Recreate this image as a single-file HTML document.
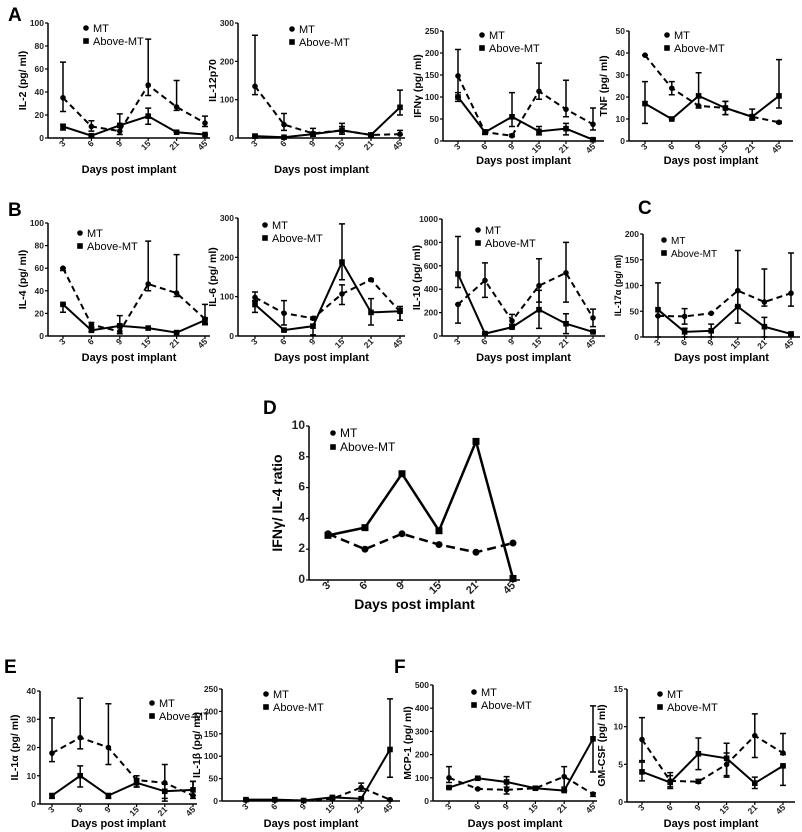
<!DOCTYPE html>
<html><head><meta charset="utf-8"><style>
body{margin:0;background:#fff}
svg{display:block;font-family:"Liberation Sans",Arial,sans-serif}
</style></head><body>
<svg id="fig" width="802" height="832" viewBox="0 0 802 832"></svg>
<script>
const days = ["3","6","9","15","21","45"];
// A1 IL-2
const il2Mt=[35,10,6,46,27,13], il2MtHi=[66,15,21,86,50,19], il2MtLo=[23,6,3,37,24,10];
const il2Ab=[10,2,11,19,5,3], il2AbHi=[12,3,11,26,5,3], il2AbLo=[7,1,11,12,5,3];
// A2 IL-12p70
const il12Mt=[135,35,12,20,8,10], il12MtHi=[268,64,25,38,12,20], il12MtLo=[113,20,5,10,5,8];
const il12Ab=[5,2,10,20,8,80], il12AbHi=[8,3,15,30,10,125], il12AbLo=[3,1,5,10,5,60];
// A3 IFNg
const ifnMt=[148,20,12,113,72,38], ifnMtHi=[208,25,15,177,138,75], ifnMtLo=[100,15,10,95,55,25];
const ifnAb=[100,20,55,22,28,3], ifnAbHi=[110,25,110,33,40,5], ifnAbLo=[90,15,33,14,14,1];
// A4 TNF
const tnfMt=[39,24,16,15,11,8.5], tnfMtHi=[39,27,16,18,12,9], tnfMtLo=[39,21,16,12,10,8];
const tnfAb=[17,10,20.5,15,11,20.5], tnfAbHi=[27,10,31,18,14.5,37], tnfAbLo=[8,10,15,12,9.5,15];
// B1 IL-4
const il4Mt=[60,10,4,46,38,15], il4MtHi=[60,12,18,84,72,28], il4MtLo=[58,8,2,40,35,10];
const il4Ab=[28,5,9,7,3,14], il4AbHi=[28,7,10,7,4,16], il4AbLo=[21,4,8,7,3,11];
// B2 IL-6
const il6Mt=[98,58,45,107,143,62], il6MtHi=[112,90,48,130,145,75], il6MtLo=[88,28,42,80,140,40];
const il6Ab=[80,15,25,188,60,63], il6AbHi=[90,17,30,285,95,70], il6AbLo=[60,12,3,143,28,40];
// B3 IL-10
const il10Mt=[270,475,130,430,540,155], il10MtHi=[270,625,185,660,800,230], il10MtLo=[110,330,100,290,290,80];
const il10Ab=[530,20,75,225,105,35], il10AbHi=[850,25,80,390,190,40], il10AbLo=[415,15,70,65,20,30];
// C IL-17a
const il17Mt=[41,40,46,90,68,85], il17MtHi=[41,55,46,168,132,163], il17MtLo=[41,25,46,60,60,60];
const il17Ab=[53,10,12,59,20,6], il17AbHi=[105,17,25,59,38,8], il17AbLo=[0,0,0,27,0,4];
// D ratio
const ratioMt=[3.0,2.0,3.0,2.3,1.8,2.4];
const ratioAb=[2.9,3.4,6.9,3.2,9.0,0.1];
// E1 IL-1a
const il1aMt=[18,23.5,20,8.5,7.5,3], il1aMtHi=[30.5,37.5,35.5,10,14,8], il1aMtLo=[15,19.5,14,6,1,2];
const il1aAb=[3,10,3,7.5,4.5,5], il1aAbHi=[3.5,13.5,3.5,9,7,8], il1aAbLo=[2,6,2,6,2,3];
// E2 IL-1b
const il1bMt=[2,2,1,5,30,3], il1bMtHi=[4,3,2,6,40,4], il1bMtLo=[1,1,1,4,22,2];
const il1bAb=[3,3,1,8,5,115], il1bAbHi=[5,4,2,10,6,228], il1bAbLo=[2,2,1,6,4,53];
// F1 MCP-1
const mcpMt=[100,52,48,55,105,30], mcpMtHi=[148,55,80,60,148,35], mcpMtLo=[80,50,30,50,60,20];
const mcpAb=[58,98,82,55,45,268], mcpAbHi=[62,102,105,60,48,410], mcpAbLo=[55,95,60,50,42,125];
// F2 GM-CSF
const gmMt=[8.3,2.8,2.7,5,8.8,6.5], gmMtHi=[11.2,3.5,3,7.8,11.7,9.1], gmMtLo=[5.5,2,2.5,3.5,5.9,6.3];
const gmAb=[4,2.6,6.4,5.8,2.5,4.8], gmAbHi=[5.3,3.9,8.5,6.5,3.3,4.8], gmAbLo=[2.8,1.8,4.3,3.3,1.8,2.2];

const panels=[
 {id:"il2",ax:48,top:23,bot:138,x0:63,x1:205,end:210,max:100,step:20,ty:173,label:"IL-2 (pg/ ml)",lg:[86,28],mt:il2Mt,mh:il2MtHi,ml:il2MtLo,ab:il2Ab,ah:il2AbHi,al:il2AbLo},
 {id:"il12",ax:238,top:23,bot:138,x0:255,x1:400,end:405,max:300,step:100,ty:173,label:"IL-12p70",lg:[292,29],mt:il12Mt,mh:il12MtHi,ml:il12MtLo,ab:il12Ab,ah:il12AbHi,al:il12AbLo},
 {id:"ifn",ax:443,top:31,bot:141,x0:458,x1:593,end:604,max:250,step:50,ty:164,label:"IFNγ (pg/ ml)",lg:[482,35],mt:ifnMt,mh:ifnMtHi,ml:ifnMtLo,ab:ifnAb,ah:ifnAbHi,al:ifnAbLo},
 {id:"tnf",ax:629,top:31,bot:141,x0:645,x1:779,end:793,max:50,step:10,ty:164,label:"TNF (pg/ ml)",lg:[667,35],mt:tnfMt,mh:tnfMtHi,ml:tnfMtLo,ab:tnfAb,ah:tnfAbHi,al:tnfAbLo},
 {id:"il4",ax:48,top:223,bot:336,x0:63,x1:205,end:210,max:100,step:20,ty:361,label:"IL-4 (pg/ ml)",lg:[80,233],mt:il4Mt,mh:il4MtHi,ml:il4MtLo,ab:il4Ab,ah:il4AbHi,al:il4AbLo},
 {id:"il6",ax:238,top:218,bot:336,x0:255,x1:400,end:405,max:300,step:100,ty:361,label:"IL-6 (pg/ ml)",lg:[265,225],mt:il6Mt,mh:il6MtHi,ml:il6MtLo,ab:il6Ab,ah:il6AbHi,al:il6AbLo},
 {id:"il10",ax:442,top:219,bot:336,x0:458,x1:593,end:605,max:1000,step:200,ty:361,label:"IL-10 (pg/ ml)",lg:[478,230],mt:il10Mt,mh:il10MtHi,ml:il10MtLo,ab:il10Ab,ah:il10AbHi,al:il10AbLo},
 {id:"il17",ax:643,top:234,bot:337,x0:658,x1:791,end:800,max:200,step:50,ty:361,label:"IL-17α (pg/ ml)",lg:[664,240],small:true,mt:il17Mt,mh:il17MtHi,ml:il17MtLo,ab:il17Ab,ah:il17AbHi,al:il17AbLo},
 {id:"ratio",ax:309,top:426,bot:580,x0:328,x1:513,end:520,max:10,step:2,ty:609,label:"IFNγ/ IL-4 ratio",lg:[333,433],big:true,mt:ratioMt,ab:ratioAb},
 {id:"il1a",ax:40,top:691,bot:804,x0:52,x1:193,end:197,max:40,step:10,ty:827,label:"IL-1α (pg/ ml)",lg:[152,703],mt:il1aMt,mh:il1aMtHi,ml:il1aMtLo,ab:il1aAb,ah:il1aAbHi,al:il1aAbLo},
 {id:"il1b",ax:222,top:689,bot:801,x0:246,x1:390,end:400,max:250,step:50,ty:827,label:"IL-1β (pg/ ml)",lg:[266,694],mt:il1bMt,mh:il1bMtHi,ml:il1bMtLo,ab:il1bAb,ah:il1bAbHi,al:il1bAbLo},
 {id:"mcp",ax:433,top:685,bot:801,x0:449,x1:593,end:597,max:500,step:100,ty:827,label:"MCP-1 (pg/ ml)",lg:[474,692],mt:mcpMt,mh:mcpMtHi,ml:mcpMtLo,ab:mcpAb,ah:mcpAbHi,al:mcpAbLo},
 {id:"gmcsf",ax:627,top:689,bot:802,x0:642,x1:783,end:795,max:15,step:5,ty:827,label:"GM-CSF (pg/ ml)",lg:[660,694],mt:gmMt,mh:gmMtHi,ml:gmMtLo,ab:gmAb,ah:gmAbHi,al:gmAbLo}
];
const letters=[["A",8,21],["B",8,216],["C",638,214],["D",263,414],["E",4,673],["F",394,673]];

const NS="http://www.w3.org/2000/svg";
const svg=document.getElementById("fig");
function mk(tag,attrs,parent,text){
  const e=document.createElementNS(NS,tag);
  for(const k in attrs)e.setAttribute(k,attrs[k]);
  if(text!==undefined)e.textContent=text;
  (parent||svg).appendChild(e);return e;
}
letters.forEach(l=>{
  const t=mk("text",{x:l[1],y:l[2],"font-size":19,"font-weight":"bold"},svg,l[0]);
  
  
});
panels.forEach(p=>{
  const g=mk("g",{});
  
  
  const n=days.length;
  const xs=i=>p.x0+(p.x1-p.x0)*i/(n-1);
  const ys=v=>p.bot-(p.bot-p.top)*v/p.max;
  const fs=p.big?12:8.5;
  const xfs=p.big?11:8.5;
  const ya=mk("line",{x1:p.ax,y1:p.top,x2:p.ax,y2:p.bot,stroke:"#000","stroke-width":1.5},g);
  
  const xa=mk("line",{x1:p.ax,y1:p.bot,x2:p.end,y2:p.bot,stroke:"#000","stroke-width":1.5},g);
  
  for(let v=0;v<=p.max+1e-9;v+=p.step){
    const y=ys(v);
    mk("line",{x1:p.ax-3,y1:y,x2:p.ax,y2:y,stroke:"#000","stroke-width":1.2},g);
    const t=mk("text",{x:p.ax-4,y:y+3,"font-size":fs,"font-weight":"bold","text-anchor":"end",fill:"#222"},g,String(Math.round(v*10)/10));
    
  }
  days.forEach((d,i)=>{
    const x=xs(i);
    mk("line",{x1:x,y1:p.bot,x2:x,y2:p.bot+3,stroke:"#000","stroke-width":1.2},g);
    const ty=p.bot+6;
    const t=mk("text",{x:x+3,y:ty,"font-size":xfs,"font-weight":"bold","text-anchor":"end",transform:`rotate(-45 ${x+3} ${ty})`,fill:"#222"},g,d);
    
  });
  const xl=mk("text",{x:(p.ax+p.end)/2,y:p.ty,"font-size":p.big?14:11,"font-weight":"bold","text-anchor":"middle"},g,"Days post implant");
  
  const lx=p.ax-(p.big?27:22), ly=(p.top+p.bot)/2;
  const yl=mk("text",{x:lx,y:ly,"font-size":p.big?14:(p.small?9:10.5),"font-weight":"bold","text-anchor":"middle",transform:`rotate(-90 ${lx} ${ly})`},g,p.label);
  
  function series(vals,hi,lo,dash,square,name){
    const sg=mk("g",{},g);
    
    if(hi){vals.forEach((v,i)=>{
      const x=xs(i),a=ys(hi[i]),b=ys(lo[i]);
      const e=mk("path",{d:`M${x},${a}V${b}M${x-3},${a}H${x+3}M${x-3},${b}H${x+3}`,stroke:"#000","stroke-width":1.5,fill:"none"},sg);
      
    });}
    const pl=mk("polyline",{points:vals.map((v,i)=>xs(i)+","+ys(v)).join(" "),fill:"none",stroke:"#000","stroke-width":p.big?2.5:2,"stroke-dasharray":dash?(p.big?"9,5":"6,4"):"none"},sg);
    
    vals.forEach((v,i)=>{
      const x=xs(i),y=ys(v),r=p.big?3.5:2.8;
      const m=square?mk("rect",{x:x-r,y:y-r,width:2*r,height:2*r,fill:"#000"},sg):mk("circle",{cx:x,cy:y,r:r,fill:"#000"},sg);
      
    });
  }
  series(p.mt,p.mh,p.ml,true,false,"mt");
  series(p.ab,p.ah,p.al,false,true,"above-mt");
  const lg=mk("g",{},g);
  
  const lfs=p.big?12:(p.small?10:11), gap=p.big?14:13;
  const e1=mk("g",{},lg);
  mk("circle",{cx:p.lg[0],cy:p.lg[1],r:2.8,fill:"#000"},e1);
  mk("text",{x:p.lg[0]+7,y:p.lg[1]+4,"font-size":lfs},e1,"MT");
  const e2=mk("g",{},lg);
  mk("rect",{x:p.lg[0]-2.8,y:p.lg[1]+gap-2.8,width:5.6,height:5.6,fill:"#000"},e2);
  mk("text",{x:p.lg[0]+7,y:p.lg[1]+gap+4,"font-size":lfs},e2,"Above-MT");
});
</script>
</body></html>
